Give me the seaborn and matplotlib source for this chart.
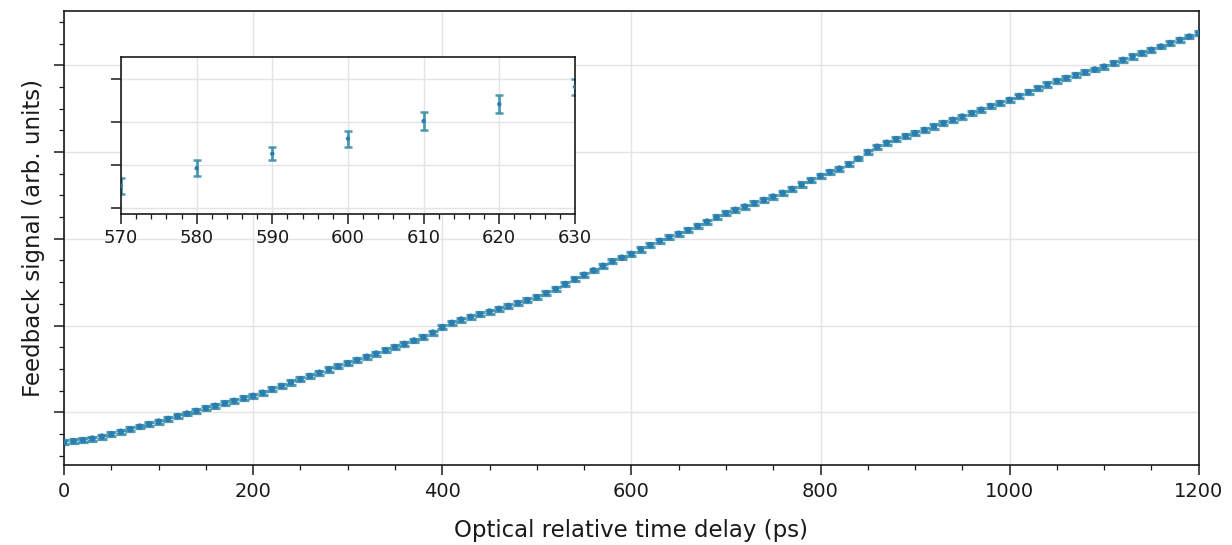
import numpy as np
import pandas as pd
import matplotlib
matplotlib.use("Agg")
import matplotlib.pyplot as plt
from matplotlib.ticker import MultipleLocator, NullFormatter
import seaborn as sns

# ---------------- data ----------------
delay_ps = np.arange(0, 1210, 10)

feedback = [
    -0.346, -0.335, -0.322, -0.305, -0.282, -0.254, -0.226, -0.197, -0.167, -0.138,
    -0.108, -0.078, -0.047, -0.016, 0.015, 0.046, 0.074, 0.102, 0.131, 0.160,
    0.188, 0.225, 0.265, 0.303, 0.342, 0.381, 0.418, 0.455, 0.492, 0.528,
    0.565, 0.602, 0.639, 0.676, 0.713, 0.750, 0.788, 0.826, 0.866, 0.918,
    0.980, 1.030, 1.068, 1.100, 1.130, 1.160, 1.192, 1.225, 1.258, 1.292,
    1.326, 1.373, 1.421, 1.478, 1.532, 1.585, 1.636, 1.689, 1.740, 1.782,
    1.826, 1.877, 1.926, 1.976, 2.018, 2.058, 2.100, 2.148, 2.198, 2.248,
    2.295, 2.335, 2.372, 2.410, 2.448, 2.487, 2.530, 2.575, 2.625, 2.675,
    2.725, 2.770, 2.810, 2.858, 2.925, 3.000, 3.062, 3.108, 3.148, 3.183,
    3.218, 3.255, 3.295, 3.335, 3.372, 3.410, 3.450, 3.490, 3.530, 3.566,
    3.602, 3.647, 3.692, 3.736, 3.780, 3.821, 3.855, 3.888, 3.920, 3.953,
    3.986, 4.025, 4.064, 4.103, 4.142, 4.180, 4.218, 4.257, 4.295, 4.333,
    4.371,
]

feedback_err = [
    0.022, 0.023, 0.021, 0.024, 0.022, 0.023, 0.025, 0.022, 0.021, 0.024,
    0.023, 0.022, 0.024, 0.021, 0.023, 0.025, 0.022, 0.023, 0.021, 0.024,
    0.022, 0.023, 0.025, 0.022, 0.024, 0.021, 0.023, 0.022, 0.024, 0.023,
    0.022, 0.025, 0.021, 0.023, 0.024, 0.022, 0.023, 0.021, 0.024, 0.022,
    0.025, 0.023, 0.022, 0.024, 0.021, 0.023, 0.022, 0.024, 0.023, 0.021,
    0.022, 0.024, 0.023, 0.025, 0.022, 0.023, 0.021, 0.0227, 0.0233, 0.019,
    0.0233, 0.027, 0.026, 0.022, 0.023, 0.024, 0.022, 0.021, 0.023, 0.025,
    0.022, 0.024, 0.023, 0.021, 0.022, 0.024, 0.023, 0.022, 0.025, 0.021,
    0.023, 0.022, 0.024, 0.023, 0.021, 0.025, 0.022, 0.023, 0.024, 0.022,
    0.021, 0.023, 0.025, 0.022, 0.024, 0.023, 0.021, 0.022, 0.024, 0.023,
    0.022, 0.025, 0.021, 0.023, 0.024, 0.022, 0.023, 0.021, 0.024, 0.022,
    0.023, 0.025, 0.022, 0.024, 0.021, 0.023, 0.022, 0.024, 0.023, 0.021,
    0.022,
]

xlabel = "Optical relative time delay (ps)"
ylabel = "Feedback signal (arb. units)"

df = pd.DataFrame({"delay": delay_ps, "signal": feedback, "err": feedback_err})

# ---------------- style ----------------
sns.set_theme(style="ticks")
plt.rcParams["font.family"] = ["DejaVu Sans"]
plt.rcParams["axes.edgecolor"] = "#1a1a1a"
plt.rcParams["axes.linewidth"] = 1.2

point_color = "#2a7db3"
bar_color = "#3d90a8"
grid_color = "#e4e4e4"

fig = plt.figure(figsize=(12.32, 5.45), dpi=100)
ax = fig.add_axes([0.052, 0.146, 0.921, 0.834])


def draw(axis, data, ms, elw, cap, capw):
    axis.errorbar(data["delay"], data["signal"], yerr=data["err"], fmt="none",
                  ecolor=bar_color, elinewidth=elw, capsize=cap, capthick=capw,
                  alpha=0.9, zorder=2)
    sns.scatterplot(data=data, x="delay", y="signal", ax=axis, s=ms,
                    color=point_color, edgecolor="none", linewidth=0,
                    zorder=3, legend=False)


draw(ax, df, 22, 2.3, 3.3, 2.3)
ax.set_xlim(0, 1200)
ax.set_ylim(-0.614, 4.629)
ax.xaxis.set_major_locator(MultipleLocator(200))
ax.xaxis.set_minor_locator(MultipleLocator(50))
ax.yaxis.set_major_locator(MultipleLocator(1))
ax.yaxis.set_minor_locator(MultipleLocator(0.25))
ax.yaxis.set_major_formatter(NullFormatter())
ax.grid(True, which="major", color=grid_color, linewidth=1.0)
ax.set_axisbelow(True)
ax.tick_params(which="major", direction="out", length=7, width=1.1,
               labelsize=14, colors="#1a1a1a", pad=5)
ax.tick_params(which="minor", direction="out", length=3.5, width=0.9,
               colors="#1a1a1a")
ax.set_xlabel(xlabel, fontsize=16.5, labelpad=13, color="#1a1a1a")
ax.set_ylabel(ylabel, fontsize=16.5, labelpad=2, color="#1a1a1a")
for s in ax.spines.values():
    s.set_visible(True)

# ---------------- inset ----------------
axin = fig.add_axes([0.0982, 0.6073, 0.3685, 0.2881])
sub = df[(df["delay"] >= 570) & (df["delay"] <= 630)]
draw(axin, sub, 10, 2.0, 3.0, 1.8)
axin.set_xlim(570, 630)
axin.set_ylim(1.607, 2.063)
axin.xaxis.set_major_locator(MultipleLocator(10))
axin.xaxis.set_minor_locator(MultipleLocator(2))
axin.yaxis.set_major_locator(MultipleLocator(0.125))
axin.yaxis.set_major_formatter(NullFormatter())
axin.grid(True, which="major", color=grid_color, linewidth=1.0)
axin.set_axisbelow(True)
axin.tick_params(which="major", direction="out", length=7, width=1.1,
                 labelsize=13, colors="#1a1a1a", pad=4)
axin.tick_params(which="minor", direction="out", length=3.5, width=0.9,
                 colors="#1a1a1a")
axin.set_xlabel("")
axin.set_ylabel("")
for s in axin.spines.values():
    s.set_visible(True)

fig.savefig("out.png", dpi=100)
